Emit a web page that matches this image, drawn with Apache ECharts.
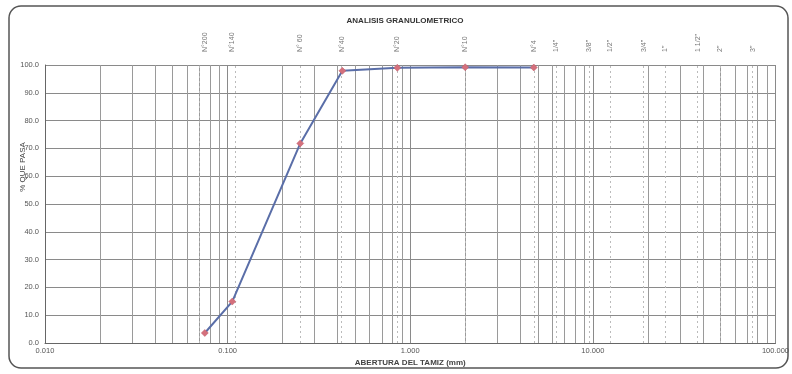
<!DOCTYPE html>
<html><head><meta charset="utf-8">
<script src="https://cdn.jsdelivr.net/npm/echarts@6/dist/echarts.min.js"></script>
<style>html,body{margin:0;padding:0;background:#fff}#c{width:792px;height:374px}</style>
</head><body><div id="c"></div>
<script>
var sieveNames = ['N°200','N°140','N° 60','N°40','N°20','N°10','N°4','1/4"','3/8"','1/2"','3/4"','1"','1 1/2"','2"','3"'];
var sieveSizes = [0.075,0.106,0.25,0.425,0.85,2.0,4.75,6.3,9.5,12.5,19,25,37.5,50,75];
var testSizes = [0.075,0.106,0.25,0.425,0.85,2.0,4.75];
var percentPassing = [3.6,14.9,71.8,97.9,99.0,99.2,99.1];
var minorGrid = [0.02,0.03,0.04,0.05,0.06,0.07,0.08,0.09,0.2,0.3,0.4,0.5,0.6,0.7,0.8,0.9,2,3,4,5,6,7,8,9,20,30,40,50,60,70,80,90];

var font = 'Liberation Sans, Arial, sans-serif';
var chart = echarts.init(document.getElementById('c'), null, {renderer:'canvas'});
chart.setOption({
  animation:false,
  backgroundColor:'#fff',
  graphic:[{type:'rect',shape:{x:9,y:6,width:779,height:362,r:12},style:{fill:'none',stroke:'#555',lineWidth:1.5},z:-1}],
  title:{text:'ANALISIS GRANULOMETRICO',left:400,textAlign:'center',top:12,
    textStyle:{fontFamily:font,fontSize:8,fontWeight:'bold',color:'#333'}},
  grid:{left:45,right:15,top:65,bottom:31},
  xAxis:{type:'log',logBase:10,min:0.01,max:100,
    name:'ABERTURA DEL TAMIZ (mm)',nameLocation:'middle',nameGap:16,nameMoveOverlap:false,
    nameTextStyle:{fontFamily:font,fontSize:8,fontWeight:'bold',color:'#444'},
    axisLine:{lineStyle:{color:'#666'}},axisTick:{show:false},
    axisLabel:{fontFamily:font,fontSize:7.5,color:'#555',margin:4,
      formatter:function(v){return Number(v).toFixed(3);}},
    splitLine:{show:true,lineStyle:{color:'#8a8a8a',width:1}}},
  yAxis:{type:'value',min:0,max:100,interval:10,
    name:'% QUE PASA',nameLocation:'middle',nameGap:18,nameMoveOverlap:false,
    nameTextStyle:{fontFamily:font,fontSize:8,color:'#444',padding:[0,0,0,74]},
    axisLine:{show:true,lineStyle:{color:'#666'}},axisTick:{show:false},
    axisLabel:{fontFamily:font,fontSize:7.5,color:'#555',margin:6,
      formatter:function(v){return v.toFixed(1);}},
    splitLine:{show:true,lineStyle:{color:'#8a8a8a',width:1}}},
  series:[
    {type:'line',data:[],silent:true,
      markLine:{silent:true,symbol:'none',label:{show:false},
        lineStyle:{color:'#9a9a9a',type:'solid',width:1},
        data:minorGrid.map(function(v){return {xAxis:v};})}},
    {type:'scatter',symbolSize:0,silent:true,
      data:sieveSizes.map(function(s,i){return {value:[s,100],name:sieveNames[i]};}),
      label:{show:true,position:'top',distance:13,rotate:90,align:'left',verticalAlign:'middle',
        fontFamily:font,fontSize:7,color:'#555',formatter:function(p){return p.name;}},
      markLine:{silent:true,symbol:'none',label:{show:false},
        lineStyle:{color:'#bbb',type:[2,3],width:1},
        data:sieveSizes.map(function(v){return {xAxis:v};})}},
    {type:'line',data:testSizes.map(function(s,i){return [s,percentPassing[i]];}),
      symbol:'diamond',symbolSize:7,
      lineStyle:{color:'#5a6ea8',width:2},
      itemStyle:{color:'#d4707c',borderColor:'#c05a68',borderWidth:0.5},z:5}
  ]
});
</script></body></html>
